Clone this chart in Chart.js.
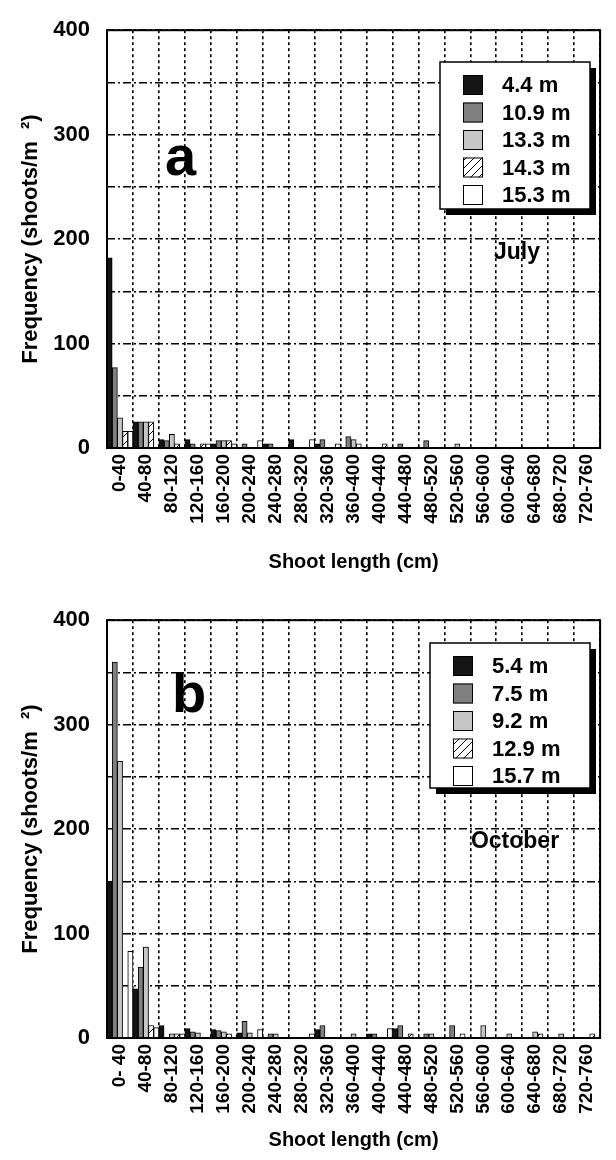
<!DOCTYPE html>
<html>
<head>
<meta charset="utf-8">
<script src="https://cdn.jsdelivr.net/npm/chart.js@4.4.0/dist/chart.umd.min.js"></script>
<style>
html, body { margin: 0; padding: 0; background: #fff; width: 616px; height: 1160px; overflow: hidden; }
.panel { position: absolute; left: 0; width: 616px; }
#pa { top: 0; height: 590px; }
#pb { top: 590px; height: 570px; }
</style>
</head>
<body>
<div class="panel" id="pa"><canvas id="chartA" width="616" height="590"></canvas></div>
<div class="panel" id="pb"><canvas id="chartB" width="616" height="570"></canvas></div>
<script>
// categories (shoot length classes, cm)
var labelsJuly = ['0-40','40-80','80-120','120-160','160-200','200-240','240-280','280-320','320-360','360-400',
                  '400-440','440-480','480-520','520-560','560-600','600-640','640-680','680-720','720-760'];
var labelsOct  = ['0- 40','40-80','80-120','120-160','160-200','200-240','240-280','280-320','320-360','360-400',
                  '400-440','440-480','480-520','520-560','560-600','600-640','640-680','680-720','720-760'];

// July, depth series (shoots/m2)
var depthsJuly = ['4.4 m', '10.9 m', '13.3 m', '14.3 m', '15.3 m'];
var july44  = [182, 25,  8, 8, 4, 0, 4, 8, 4,  0, 0, 0, 0, 0, 0, 0, 0, 0, 0];
var july109 = [ 77, 25,  7, 4, 7, 4, 4, 0, 8, 11, 0, 4, 7, 0, 0, 0, 0, 0, 0];
var july133 = [ 29, 25, 13, 0, 7, 0, 0, 0, 0,  8, 0, 0, 0, 4, 0, 0, 0, 0, 0];
var july143 = [ 16, 25,  4, 4, 7, 0, 0, 0, 0,  4, 4, 0, 0, 0, 0, 0, 0, 0, 0];
var july153 = [ 16,  0,  0, 4, 4, 7, 0, 8, 4,  0, 0, 0, 0, 0, 0, 0, 0, 0, 0];

// October, depth series (shoots/m2)
var depthsOct = ['5.4 m', '7.5 m', '9.2 m', '12.9 m', '15.7 m'];
var oct54  = [150, 47, 12, 9, 8,  5, 0, 0,  8, 0, 4,  9, 0,  0,  0, 0, 0, 0, 0];
var oct75  = [360, 68,  0, 6, 7, 16, 4, 0, 12, 0, 4, 12, 4, 12,  0, 0, 0, 0, 0];
var oct92  = [265, 87,  4, 5, 6,  5, 4, 0,  0, 4, 0,  0, 4,  0, 12, 4, 6, 4, 0];
var oct129 = [  0, 12,  4, 0, 4,  0, 0, 0,  0, 0, 0,  4, 0,  4,  0, 0, 4, 0, 4];
var oct157 = [ 83, 10,  4, 0, 0,  8, 0, 4,  0, 0, 9,  0, 0,  0,  0, 0, 0, 0, 0];

var yTicks = [0, 100, 200, 300, 400];

var FONT = '"Liberation Sans", Arial, sans-serif';

function hatch() {
  var c = document.createElement('canvas');
  c.width = 8; c.height = 8;
  var g = c.getContext('2d');
  g.fillStyle = '#fff';
  g.fillRect(0, 0, 8, 8);
  g.strokeStyle = '#000';
  g.lineWidth = 1;
  g.beginPath();
  g.moveTo(0, 8); g.lineTo(8, 0);
  g.moveTo(-1, 1); g.lineTo(1, -1);
  g.moveTo(7, 9); g.lineTo(9, 7);
  g.stroke();
  return g.createPattern(c, 'repeat');
}

var fills = ['#141414', '#808080', '#c6c6c6', hatch(), '#ffffff'];

var decor = {
  id: 'decor',
  afterDraw: function(chart, args, o) {
    var ctx = chart.ctx, a = chart.chartArea;
    ctx.save();
    // plot frame
    ctx.strokeStyle = '#000';
    ctx.lineWidth = 2;
    ctx.strokeRect(a.left, a.top, a.right - a.left, a.bottom - a.top);
    // panel letter and month
    ctx.fillStyle = '#000';
    ctx.textAlign = 'left';
    ctx.textBaseline = 'alphabetic';
    ctx.font = 'bold 56px ' + FONT;
    ctx.fillText(o.letter, o.letterX, o.letterY);
    ctx.textAlign = 'center';
    ctx.font = 'bold 23px ' + FONT;
    ctx.fillText(o.month, o.monthX, o.monthY);
    // legend box with shadow
    var L = o.legend;
    ctx.fillStyle = '#000';
    ctx.fillRect(L.x + 6, L.y + 6, L.w, L.h);
    ctx.fillStyle = '#fff';
    ctx.fillRect(L.x, L.y, L.w, L.h);
    ctx.lineWidth = 1.5;
    ctx.strokeRect(L.x, L.y, L.w, L.h);
    ctx.textAlign = 'left';
    ctx.textBaseline = 'middle';
    ctx.font = 'bold 22px ' + FONT;
    chart.data.datasets.forEach(function(ds, i) {
      var cy = L.y + 23 + i * 27.5;
      ctx.fillStyle = ds.backgroundColor;
      ctx.fillRect(L.x + 23, cy - 10, 20, 20);
      ctx.lineWidth = 1;
      ctx.strokeStyle = '#000';
      ctx.strokeRect(L.x + 23.5, cy - 9.5, 19, 19);
      ctx.fillStyle = '#000';
      ctx.fillText(ds.label, L.x + 62, cy + 1);
    });
    ctx.restore();
  }
};

function makeChart(id, labels, names, series, o) {
  var ctx = document.getElementById(id).getContext('2d');
  return new Chart(ctx, {
    type: 'bar',
    data: {
      labels: labels,
      datasets: series.map(function(d, i) {
        return {
          label: names[i],
          data: d,
          backgroundColor: fills[i],
          borderColor: '#000',
          borderWidth: 1,
          categoryPercentage: 1,
          barPercentage: 1
        };
      })
    },
    options: {
      responsive: false,
      animation: false,
      layout: { padding: { left: 0, right: 3, top: o.top, bottom: 0 } },
      plugins: {
        legend: { display: false },
        tooltip: { enabled: false },
        decor: o.decor
      },
      scales: {
        x: {
          afterFit: function(s) { s.height = o.xHeight; },
          grid: { color: '#000', lineWidth: 1.6, offset: true, drawTicks: false },
          border: { display: false, dash: [3, 3] },
          ticks: {
            color: '#000', autoSkip: false, minRotation: 90, maxRotation: 90, padding: 6,
            font: { family: FONT, size: 19, weight: 'bold' }
          },
          title: {
            display: true, text: 'Shoot length (cm)', color: '#000',
            font: { family: FONT, size: 20, weight: 'bold' },
            padding: { top: 0, bottom: o.titlePad }
          }
        },
        y: {
          min: 0, max: 400,
          afterFit: function(s) { s.width = 107; },
          grid: { color: '#000', lineWidth: 1.6, drawTicks: false },
          border: { display: false, dash: [8, 3, 2, 3] },
          ticks: {
            stepSize: 50, color: '#000', padding: 17,
            font: { family: FONT, size: 22, weight: 'bold' },
            callback: function(v) { return yTicks.indexOf(v) >= 0 ? v : ''; }
          },
          title: {
            display: true, text: 'Frequency (shoots/m  \u00B2)', color: '#000',
            font: { family: FONT, size: 22, weight: 'bold' },
            padding: { top: 18, bottom: 0 }
          }
        }
      }
    },
    plugins: [decor]
  });
}

makeChart('chartA', labelsJuly, depthsJuly, [july44, july109, july133, july143, july153], {
  top: 23, xHeight: 142, titlePad: 16,
  decor: {
    letter: 'a', letterX: 165, letterY: 175,
    month: 'July', monthX: 517, monthY: 259,
    legend: { x: 440, y: 62, w: 150, h: 147 }
  }
});

makeChart('chartB', labelsOct, depthsOct, [oct54, oct75, oct92, oct129, oct157], {
  top: 27, xHeight: 122, titlePad: 8,
  decor: {
    letter: 'b', letterX: 172, letterY: 122,
    month: 'October', monthX: 515, monthY: 258,
    legend: { x: 430, y: 53, w: 160, h: 145 }
  }
});
</script>
</body>
</html>
